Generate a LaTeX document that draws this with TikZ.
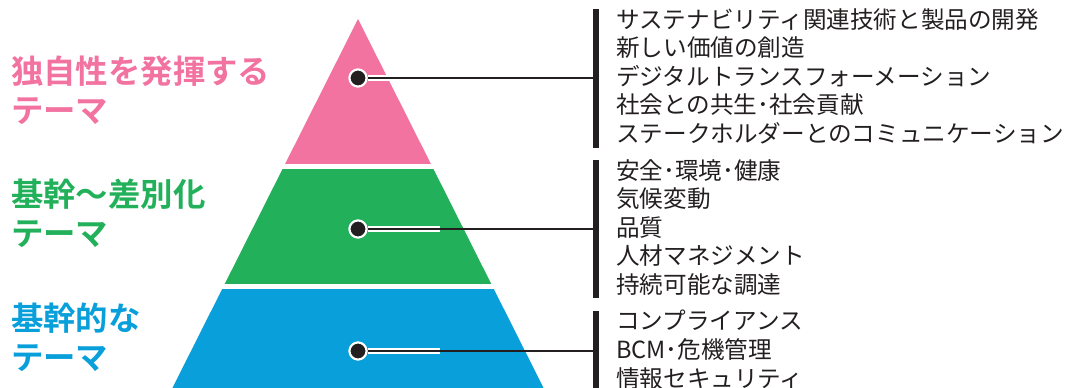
\documentclass[tikz,border=0pt]{standalone}
\usepackage{fontspec}
\newfontfamily\jp{Noto Sans CJK JP}
\newfontfamily\jpb{Noto Sans CJK JP Bold}
\definecolor{cpink}{HTML}{F272A0}
\definecolor{cgreen}{HTML}{22B05A}
\definecolor{cblue}{HTML}{089FDA}
\definecolor{cblack}{HTML}{231F20}
\tikzset{
  lbl/.style={anchor=north west, inner sep=0pt, align=left, font=\jpb\fontsize{32.4}{39}\selectfont},
  lst/.style={anchor=north west, inner sep=0pt, align=left, text=cblack, font=\jp\fontsize{23.6}{28.6}\selectfont},
  dot/.style={circle, fill=cblack, draw=white, line width=2pt, minimum size=17pt, inner sep=0pt},
  bar/.style={draw=cblack, line width=6pt},
  halo/.style={draw=white, line width=5.5pt},
  conn/.style={draw=cblack, line width=2.2pt}
}
\begin{document}
\begin{tikzpicture}[x=1pt,y=-1pt]
\useasboundingbox (0,0) rectangle (1068,388);
% pyramid bands
\begin{scope}
  \clip (358,19) -- (358+0.503*381,400) -- (358-0.503*381,400) -- cycle;
  \fill[cpink] (0,0) rectangle (1068,164);
  \fill[cgreen] (0,169) rectangle (1068,284);
  \fill[cblue] (0,289) rectangle (1068,400);
\end{scope}
% dots
\node[dot] (d1) at (358,78) {};
\node[dot] (d2) at (358,229) {};
\node[dot] (d3) at (358,351) {};
% bars
\coordinate (b1t) at (596,9);   \coordinate (b1b) at (596,148);
\coordinate (b2t) at (596,160); \coordinate (b2b) at (596,298);
\coordinate (b3t) at (596,311); \coordinate (b3b) at (596,392);
\draw[bar] (b1t) -- (b1b);
\draw[bar] (b2t) -- (b2b);
\draw[bar] (b3t) -- (b3b);
\coordinate (e1) at (596,78);
\coordinate (e2) at (596,229);
\coordinate (e3) at (596,351);
% connectors
\foreach \i in {1,2,3}{
  \draw[halo] (d\i.east) -- (e\i -| 440,0);
  \draw[conn] (d\i.east) -- (e\i);
}
\node[dot] at (d1) {};
\node[dot] at (d2) {};
\node[dot] at (d3) {};
% left labels
\node[lbl, text=cpink] (l1) at (11,56) {独自性を発揮する\\テーマ};
\node[lbl, text=cgreen] (l2) at (11,179) {基幹〜差別化\\テーマ};
\node[lbl, text=cblue] (l3) at (11,303) {基幹的な\\テーマ};
% lists
\node[lst] (t1) at (616,8) {サステナビリティ関連技術と製品の開発\\新しい価値の創造\\デジタルトランスフォーメーション\\社会との共生･社会貢献\\ステークホルダーとのコミュニケーション};
\node[lst] (t2) at (616,159) {安全･環境･健康\\気候変動\\品質\\人材マネジメント\\持続可能な調達};
\node[lst] (t3) at (616,310) {コンプライアンス\\BCM･危機管理\\情報セキュリティ};
\end{tikzpicture}
\end{document}
